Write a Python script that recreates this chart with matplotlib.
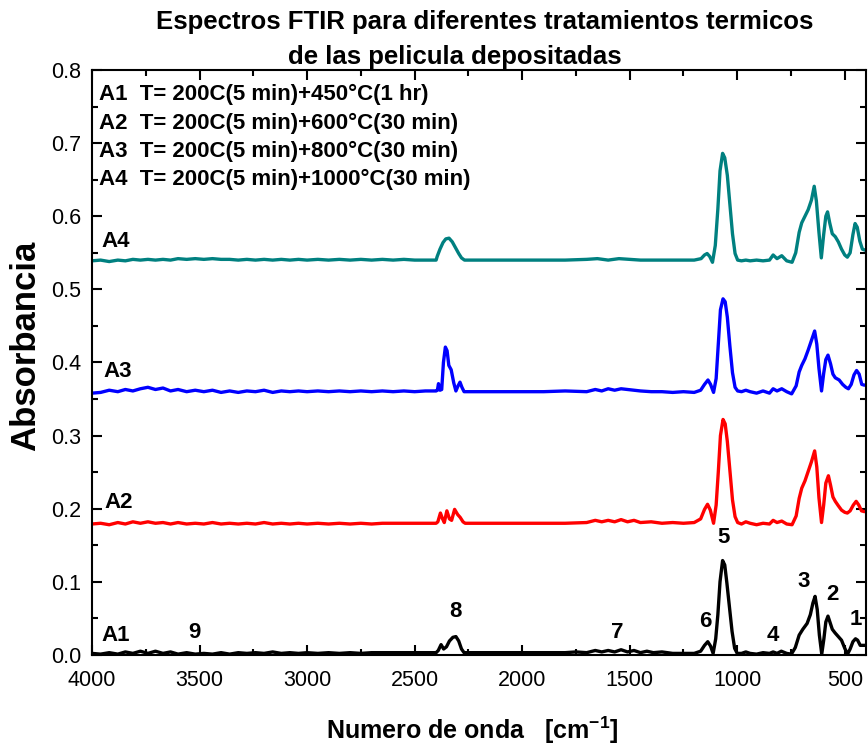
import matplotlib
matplotlib.use("Agg")
import matplotlib.pyplot as plt

plt.rcParams["font.family"] = ["Liberation Sans", "DejaVu Sans"]
plt.rcParams["mathtext.default"] = "regular"

# wavenumber grid for the flat high-wavenumber part (4000 -> 2400 cm-1)
wn_hi = [4000, 3960, 3920, 3880, 3845, 3810, 3775, 3740, 3705, 3670, 3635, 3600, 3560,
         3520, 3480, 3440, 3400, 3360, 3320, 3280, 3240, 3200, 3160, 3120, 3080, 3040,
         3000, 2950, 2900, 2850, 2800, 2750, 2700, 2650, 2600, 2550, 2500, 2450, 2400]

a1_hi = [0.002, 0.001, 0.003, 0.001, 0.004, 0.002, 0.005, 0.002, 0.005, 0.002, 0.004, 0.001, 0.003,
         0.001, 0.002, 0.001, 0.003, 0.001, 0.003, 0.002, 0.003, 0.002, 0.004, 0.002, 0.003, 0.002,
         0.003, 0.002, 0.003, 0.002, 0.003, 0.002, 0.003, 0.003, 0.003, 0.003, 0.003, 0.003, 0.003]
a2_hi = [0.179, 0.180, 0.178, 0.181, 0.179, 0.182, 0.180, 0.182, 0.180, 0.181, 0.179, 0.181, 0.179,
         0.180, 0.179, 0.181, 0.179, 0.180, 0.179, 0.180, 0.179, 0.181, 0.179, 0.180, 0.179, 0.180,
         0.179, 0.180, 0.179, 0.180, 0.179, 0.180, 0.179, 0.180, 0.180, 0.180, 0.180, 0.180, 0.180]
a3_hi = [0.358, 0.359, 0.362, 0.360, 0.363, 0.361, 0.364, 0.366, 0.363, 0.365, 0.361, 0.363, 0.360,
         0.362, 0.360, 0.362, 0.359, 0.361, 0.359, 0.361, 0.360, 0.362, 0.359, 0.361, 0.360, 0.361,
         0.360, 0.361, 0.360, 0.361, 0.360, 0.361, 0.360, 0.361, 0.360, 0.361, 0.360, 0.361, 0.361]
a4_hi = [0.539, 0.540, 0.538, 0.540, 0.539, 0.541, 0.540, 0.541, 0.540, 0.541, 0.540, 0.542, 0.541,
         0.542, 0.541, 0.542, 0.541, 0.541, 0.540, 0.541, 0.540, 0.541, 0.540, 0.541, 0.540, 0.541,
         0.540, 0.541, 0.540, 0.541, 0.540, 0.541, 0.540, 0.541, 0.540, 0.541, 0.540, 0.540, 0.540]

# A1: 200C(5 min)+450C(1 hr), below 2400 cm-1
a1_wn = [2390, 2377, 2365, 2352, 2338, 2322, 2308, 2295, 2282, 2270, 2200, 2100, 2000, 1900, 1800,
         1750, 1700, 1660, 1630, 1600, 1570, 1540, 1510, 1480, 1450, 1420, 1390, 1350, 1300, 1250,
         1200, 1170, 1152, 1137, 1124, 1112, 1100, 1090, 1080, 1068, 1058, 1048, 1036, 1024, 1012,
         1000, 980, 960, 940, 910, 880, 850, 833, 815, 795, 770, 748, 730, 712, 695, 675, 660, 648,
         638, 628, 618, 607, 597, 588, 578, 568, 558, 545, 530, 515, 500, 487, 475, 462, 450, 440,
         428, 415, 400]
a1_ab = [0.006, 0.014, 0.008, 0.011, 0.019, 0.024, 0.025, 0.019, 0.008, 0.003, 0.003, 0.003, 0.003, 0.003, 0.003,
         0.004, 0.003, 0.006, 0.004, 0.006, 0.004, 0.007, 0.004, 0.006, 0.003, 0.005, 0.003, 0.004, 0.002, 0.002,
         0.002, 0.005, 0.013, 0.018, 0.012, 0.002, 0.022, 0.055, 0.100, 0.129, 0.123, 0.098, 0.065, 0.032, 0.009,
         0.002, 0.002, 0.004, 0.002, 0.001, 0.003, 0.002, 0.004, 0.002, 0.005, 0.002, 0.001, 0.010, 0.027, 0.035,
         0.043, 0.055, 0.071, 0.080, 0.062, 0.027, 0.001, 0.022, 0.045, 0.053, 0.044, 0.035, 0.030, 0.025, 0.020,
         0.009, 0.001, 0.008, 0.018, 0.022, 0.020, 0.013, 0.013, 0.013]

# A2: 200C(5 min)+600C(30 min)
a2_wn = [2392, 2380, 2370, 2362, 2350, 2338, 2328, 2314, 2300, 2288, 2275, 2265, 2200, 2100, 2000,
         1900, 1800, 1700, 1660, 1630, 1600, 1570, 1540, 1510, 1480, 1450, 1400, 1350, 1300, 1250,
         1200, 1170, 1152, 1138, 1125, 1110, 1098, 1088, 1078, 1066, 1056, 1046, 1034, 1022, 1010,
         998, 980, 960, 940, 910, 880, 850, 833, 815, 793, 770, 745, 726, 712, 700, 685, 670, 655,
         640, 630, 620, 608, 598, 588, 576, 566, 555, 544, 530, 515, 500, 488, 475, 460, 447, 435,
         422, 410, 400]
a2_ab = [0.182, 0.194, 0.186, 0.181, 0.197, 0.186, 0.184, 0.199, 0.192, 0.188, 0.182, 0.180, 0.180, 0.180, 0.180,
         0.180, 0.180, 0.181, 0.184, 0.182, 0.184, 0.182, 0.185, 0.182, 0.184, 0.181, 0.182, 0.180, 0.181, 0.180,
         0.181, 0.186, 0.199, 0.206, 0.198, 0.180, 0.205, 0.250, 0.300, 0.322, 0.316, 0.292, 0.252, 0.212, 0.189,
         0.181, 0.179, 0.182, 0.180, 0.178, 0.180, 0.179, 0.184, 0.181, 0.183, 0.179, 0.178, 0.190, 0.214, 0.228,
         0.238, 0.251, 0.264, 0.279, 0.257, 0.215, 0.181, 0.205, 0.235, 0.245, 0.232, 0.216, 0.210, 0.204, 0.198,
         0.195, 0.194, 0.197, 0.205, 0.210, 0.205, 0.197, 0.196, 0.196]

# A3: 200C(5 min)+800C(30 min)
a3_wn = [2394, 2389, 2382, 2374, 2366, 2357, 2349, 2341, 2330, 2318, 2308, 2298, 2289, 2280, 2270,
         2200, 2100, 2000, 1900, 1800, 1700, 1660, 1630, 1600, 1570, 1540, 1510, 1480, 1450, 1400,
         1350, 1300, 1250, 1200, 1170, 1152, 1136, 1124, 1110, 1098, 1088, 1078, 1066, 1056, 1046,
         1034, 1022, 1010, 998, 980, 960, 940, 910, 880, 850, 833, 815, 793, 770, 747, 726, 712, 700,
         685, 670, 655, 640, 630, 620, 608, 598, 588, 578, 566, 555, 544, 526, 510, 495, 483, 470,
         457, 445, 433, 421, 410, 400]
a3_ab = [0.362, 0.371, 0.362, 0.363, 0.400, 0.421, 0.416, 0.396, 0.390, 0.372, 0.361, 0.368, 0.373, 0.366, 0.360,
         0.360, 0.360, 0.360, 0.360, 0.361, 0.360, 0.363, 0.361, 0.364, 0.362, 0.364, 0.363, 0.362, 0.361, 0.360,
         0.360, 0.359, 0.360, 0.359, 0.362, 0.370, 0.376, 0.370, 0.359, 0.378, 0.425, 0.472, 0.487, 0.483, 0.462,
         0.422, 0.386, 0.366, 0.361, 0.360, 0.362, 0.360, 0.358, 0.361, 0.358, 0.364, 0.361, 0.364, 0.360, 0.357,
         0.368, 0.387, 0.396, 0.405, 0.417, 0.430, 0.443, 0.425, 0.392, 0.361, 0.385, 0.404, 0.410, 0.398, 0.384,
         0.379, 0.376, 0.370, 0.366, 0.364, 0.370, 0.383, 0.389, 0.384, 0.370, 0.369, 0.369]

# A4: 200C(5 min)+1000C(30 min)
a4_wn = [2395, 2382, 2368, 2355, 2340, 2325, 2310, 2295, 2282, 2268, 2200, 2100, 2000, 1900, 1800,
         1700, 1650, 1600, 1550, 1500, 1450, 1400, 1300, 1200, 1168, 1152, 1140, 1128, 1115, 1102,
         1090, 1080, 1068, 1058, 1046, 1034, 1022, 1010, 998, 980, 960, 940, 910, 880, 850, 833, 815,
         793, 770, 745, 728, 712, 700, 685, 670, 655, 642, 632, 620, 609, 598, 588, 580, 570, 558,
         544, 530, 515, 500, 488, 475, 462, 452, 442, 430, 418, 400]
a4_ab = [0.545, 0.555, 0.564, 0.569, 0.570, 0.565, 0.557, 0.549, 0.543, 0.540, 0.540, 0.540, 0.540, 0.540, 0.540,
         0.541, 0.542, 0.540, 0.542, 0.541, 0.540, 0.540, 0.540, 0.540, 0.542, 0.547, 0.549, 0.545, 0.537, 0.560,
         0.610, 0.662, 0.686, 0.680, 0.656, 0.616, 0.576, 0.549, 0.540, 0.539, 0.540, 0.539, 0.540, 0.539, 0.540,
         0.547, 0.542, 0.546, 0.539, 0.537, 0.550, 0.578, 0.591, 0.600, 0.609, 0.622, 0.641, 0.621, 0.578, 0.543,
         0.575, 0.600, 0.606, 0.591, 0.576, 0.572, 0.565, 0.555, 0.547, 0.544, 0.550, 0.575, 0.590, 0.585, 0.566,
         0.555, 0.553]

series_names = ["A1", "A2", "A3", "A4"]
series_colors = ["black", "#ff0000", "#0000ff", "#008080"]
legend_lines = [
    "A1  T= 200C(5 min)+450°C(1 hr)",
    "A2  T= 200C(5 min)+600°C(30 min)",
    "A3  T= 200C(5 min)+800°C(30 min)",
    "A4  T= 200C(5 min)+1000°C(30 min)",
]
# curve name labels (wavenumber, absorbance)
name_pos = [(3958, 0.027), (3940, 0.209), (3949, 0.387), (3958, 0.565)]
# band numbers (label, wavenumber, absorbance)
band_labels = ["1", "2", "3", "4", "5", "6", "7", "8", "9"]
band_wn = [447, 558, 693, 833, 1065, 1149, 1558, 2312, 3526]
band_ab = [0.048, 0.082, 0.100, 0.027, 0.161, 0.045, 0.031, 0.059, 0.031]

fig = plt.figure(figsize=(8.68, 7.45), dpi=100)
ax = fig.add_axes([0.106, 0.121, 0.892, 0.785])

all_wn = [wn_hi + a1_wn, wn_hi + a2_wn, wn_hi + a3_wn, wn_hi + a4_wn]
all_ab = [a1_hi + a1_ab, a2_hi + a2_ab, a3_hi + a3_ab, a4_hi + a4_ab]
for wn, ab, col in zip(all_wn, all_ab, series_colors):
    ax.plot(wn, ab, color=col, lw=2.4, solid_joinstyle="round", clip_on=True)

ax.set_xlim(4000, 400)
ax.set_ylim(0, 0.8)
ax.set_xticks([4000, 3500, 3000, 2500, 2000, 1500, 1000, 500])
ax.set_xticks([3750, 3250, 2750, 2250, 1750, 1250, 750], minor=True)
ax.set_yticks([0.0, 0.1, 0.2, 0.3, 0.4, 0.5, 0.6, 0.7, 0.8])
ax.set_yticks([0.05, 0.15, 0.25, 0.35, 0.45, 0.55, 0.65, 0.75], minor=True)
ax.set_yticklabels([f"{v:.1f}" for v in ax.get_yticks()])
ax.tick_params(which="both", direction="in", top=True, right=True, width=1.5, labelsize=15.5)
ax.tick_params(which="major", length=7.5)
ax.tick_params(which="minor", length=4)
ax.tick_params(axis="x", pad=11)
ax.tick_params(axis="y", pad=8)
for sp in ax.spines.values():
    sp.set_linewidth(1.5)

for i, line in enumerate(legend_lines):
    ax.text(0.009, 0.958 - i * 0.0485, line, transform=ax.transAxes, fontsize=16,
            fontweight="bold", ha="left", va="center")

for name, (x, y) in zip(series_names, name_pos):
    ax.text(x, y, name, fontsize=16, fontweight="bold", ha="left", va="center")

for lab, x, y in zip(band_labels, band_wn, band_ab):
    ax.text(x, y, lab, fontsize=16, fontweight="bold", ha="center", va="center")

fig.text(485 / 868, 1 - 22 / 745, "Espectros FTIR para diferentes tratamientos termicos",
         fontsize=18.5, fontweight="bold", ha="center", va="center")
fig.text(455 / 868, 1 - 57 / 745, "de las pelicula depositadas",
         fontsize=18.5, fontweight="bold", ha="center", va="center")
fig.text(26 / 868, 1 - 346 / 745, "Absorbancia", fontsize=25, fontweight="bold",
         rotation=90, ha="center", va="center")
fig.text(472 / 868, 1 - 730 / 745, "Numero de onda   [cm$^{-1}$]", fontsize=18,
         fontweight="bold", ha="center", va="center")

fig.savefig("out.png", dpi=100)
